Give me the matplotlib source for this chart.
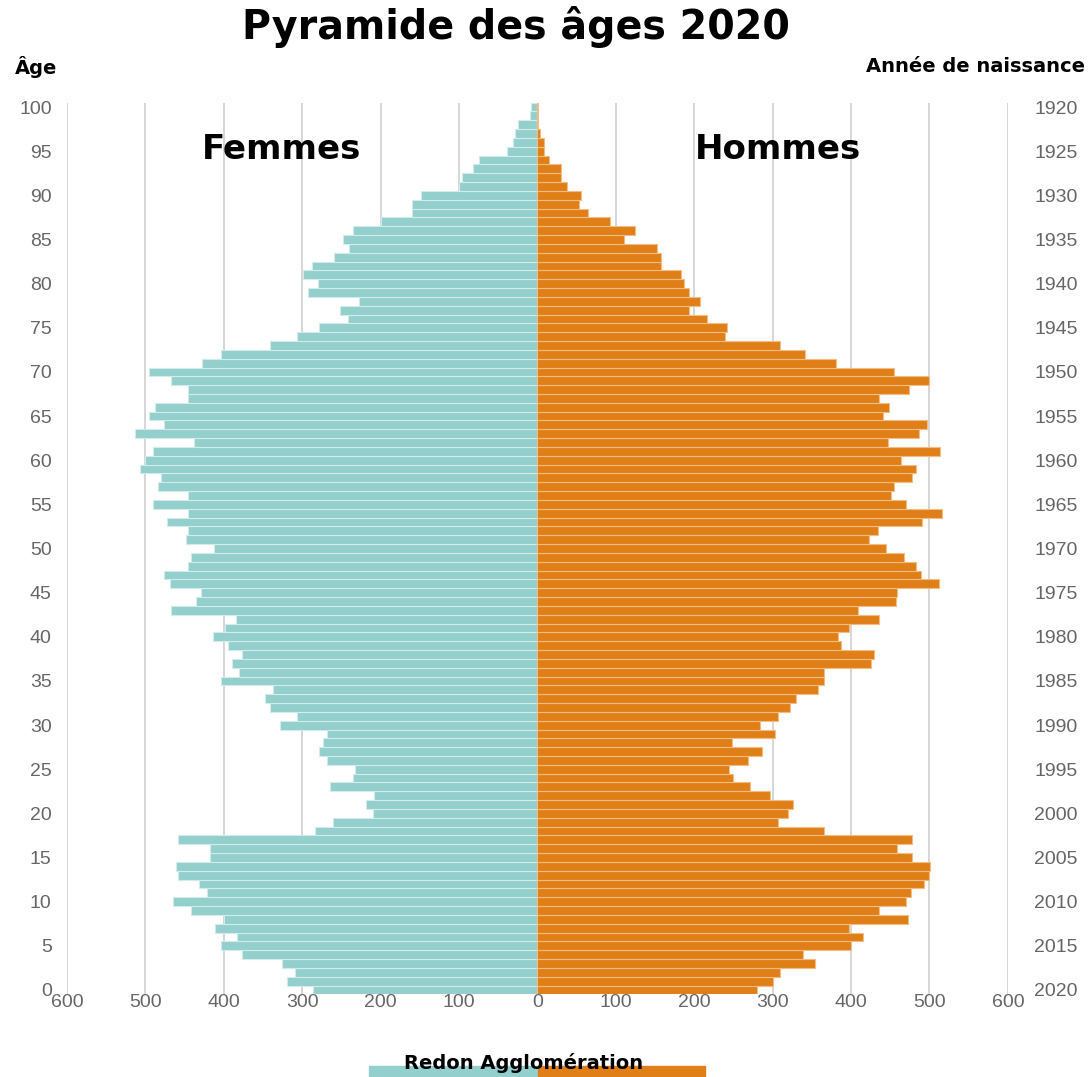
import numpy as np
import matplotlib.pyplot as plt
from matplotlib.patches import Rectangle

ages = np.arange(0, 101)

# population par âge (0 -> 100)
femmes = [286, 320, 309, 326, 377, 404, 383, 411, 400, 442,
          465, 421, 431, 459, 461, 417, 417, 459, 284, 261,
          210, 219, 208, 265, 235, 233, 269, 278, 273, 269,
          328, 307, 341, 347, 337, 404, 381, 389, 377, 394,
          414, 398, 385, 467, 436, 429, 469, 476, 446, 442,
          413, 448, 446, 473, 446, 490, 446, 484, 480, 507,
          501, 490, 438, 513, 476, 495, 488, 446, 446, 467,
          495, 428, 404, 341, 307, 278, 242, 252, 227, 292,
          280, 299, 288, 259, 240, 248, 235, 199, 160, 160,
          149, 100, 96, 82, 75, 39, 31, 29, 25, 10,
          8]
hommes = [280, 301, 309, 354, 339, 400, 415, 398, 472, 436,
          470, 476, 493, 500, 501, 478, 459, 478, 366, 307,
          320, 326, 297, 271, 250, 244, 269, 286, 248, 303,
          284, 307, 322, 330, 358, 366, 366, 425, 429, 387,
          383, 398, 436, 409, 457, 459, 512, 489, 483, 468,
          444, 423, 434, 491, 516, 470, 451, 455, 478, 483,
          464, 514, 447, 487, 497, 441, 449, 436, 474, 500,
          455, 381, 341, 309, 239, 242, 216, 193, 207, 193,
          187, 183, 157, 157, 153, 111, 124, 92, 64, 53,
          56, 38, 30, 30, 15, 9, 9, 3, 1, 1,
          1]

xticks = [-600, -500, -400, -300, -200, -100, 0, 100, 200, 300, 400, 500, 600]
age_ticks = list(range(0, 101, 5))
year_labels = [str(2020 - a) for a in age_ticks]

teal = "#92cfcd"
orange = "#e07f18"
grey = "#666666"
heavy = ['DejaVu Sans']

plt.rcParams['font.family'] = ['Liberation Sans', 'DejaVu Sans']

fig = plt.figure(figsize=(10.89, 10.77), dpi=100)
ax = fig.add_axes([0.0615, 0.0767, 0.864, 0.828])

ax.barh(ages, -np.array(femmes), height=1.0, color=teal,
        edgecolor="#d2ecea", linewidth=0.8, zorder=2)
ax.barh(ages, hommes, height=1.0, color=orange,
        edgecolor="#f2bd85", linewidth=0.8, zorder=2)

ax.set_xlim(-600, 600)
ax.set_ylim(-0.5, 100.5)
ax.set_xticks(xticks)
ax.set_xticklabels([str(abs(v)) for v in xticks])
ax.set_yticks(age_ticks)
ax.grid(axis="x", color="#d0d0d0", linewidth=1.2, zorder=0)
ax.set_axisbelow(True)
for s in ax.spines.values():
    s.set_visible(False)
ax.tick_params(axis="both", length=0, labelcolor=grey, labelsize=14)
ax.tick_params(axis="x", pad=0)
ax.tick_params(axis="y", pad=11)

ax2 = ax.twinx()
ax2.set_ylim(ax.get_ylim())
ax2.set_yticks(age_ticks)
ax2.set_yticklabels(year_labels)
ax2.tick_params(axis="y", length=0, labelcolor=grey, labelsize=14, pad=19)
for s in ax2.spines.values():
    s.set_visible(False)

ax.text(-326, 95.2, "Femmes", fontsize=24.5, fontweight="bold", family=heavy,
        ha="center", va="center")
ax.text(307, 95.2, "Hommes", fontsize=24.5, fontweight="bold", family=heavy,
        ha="center", va="center")

fig.text(0.474, 0.975, "Pyramide des âges 2020", fontsize=28.5, fontweight="bold",
         family=heavy, ha="center", va="center")
fig.text(0.014, 0.938, "Âge", fontsize=14, fontweight="bold", family=heavy,
         ha="left", va="center")
fig.text(0.996, 0.938, "Année de naissance", fontsize=14, fontweight="bold",
         family=heavy, ha="right", va="center")

# légende
fig.patches.append(Rectangle((369 / 1089, 0), 169 / 1089, 11 / 1077,
                             transform=fig.transFigure, color=teal))
fig.patches.append(Rectangle((538 / 1089, 0), 167 / 1089, 11 / 1077,
                             transform=fig.transFigure, color=orange))
fig.text(524 / 1089, 1 - 1063 / 1077, "Redon Agglomération", fontsize=14,
         fontweight="bold", family=heavy, ha="center", va="center")

fig.savefig("out.png", dpi=100)
